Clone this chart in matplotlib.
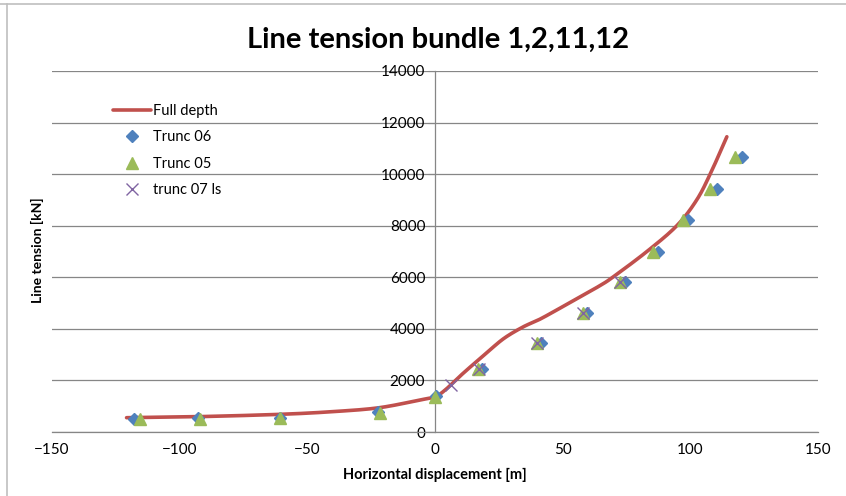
import numpy as np
import matplotlib
matplotlib.use("Agg")
import matplotlib.pyplot as plt
from matplotlib.lines import Line2D

# Full-depth reference curve
full_x = [-120.8, -93, -60.7, -40, -22, -6, 0, 4, 11, 20, 27, 34.6, 41, 50, 57, 65, 70, 83, 94.7, 102.5, 108, 114.3]
full_y = [555, 595, 685, 790, 940, 1240, 1370, 1630, 2275, 3050, 3630, 4080, 4370, 4860, 5250, 5700, 6030, 7000, 8000, 9000, 10050, 11450]

# Truncated model results
trunc06_x = [-118, -93, -60.7, -22.3, 0.3, 18.3, 41.4, 59.4, 74.4, 87.5, 99.2, 110.3, 120.1]
trunc06_y = [520, 530, 550, 760, 1380, 2440, 3460, 4600, 5800, 6990, 8220, 9420, 10680]

trunc05_x = [-115.5, -92, -60.7, -21.5, 0, 17, 39.8, 57.8, 72.5, 85.5, 97.3, 107.7, 117.5]
trunc05_y = [500, 510, 540, 740, 1370, 2430, 3450, 4600, 5800, 6990, 8220, 9420, 10680]

trunc07_x = [6.3, 17.4, 40.1, 58.1, 72.5]
trunc07_y = [1820, 2430, 3460, 4600, 5800]

x_ticks = [-150, -100, -50, 0, 50, 100, 150]
y_ticks = [0, 2000, 4000, 6000, 8000, 10000, 12000, 14000]


def smooth_path(xs, ys, xr, yr, n=20):
    """Catmull-Rom path through the points, computed in normalised units."""
    p = np.column_stack([np.asarray(xs) / xr, np.asarray(ys) / yr])
    p = np.vstack([2 * p[0] - p[1], p, 2 * p[-1] - p[-2]])
    out = []
    for i in range(1, len(p) - 2):
        p0, p1, p2, p3 = p[i - 1], p[i], p[i + 1], p[i + 2]
        t = np.linspace(0, 1, n, endpoint=False)[:, None]
        seg = 0.5 * ((2 * p1) + (-p0 + p2) * t + (2 * p0 - 5 * p1 + 4 * p2 - p3) * t ** 2
                     + (-p0 + 3 * p1 - 3 * p2 + p3) * t ** 3)
        out.append(seg)
    out.append(p[-2][None, :])
    out = np.vstack(out)
    return out[:, 0] * xr, out[:, 1] * yr


plt.rcParams['font.family'] = ['Lato', 'DejaVu Sans']

fig = plt.figure(figsize=(8.46, 4.96), dpi=100)
ax = fig.add_axes([52/846, 1 - 432/496, (818 - 52)/846, (432 - 71)/496])

grid_c = '#868686'
ax.set_xlim(-150, 150)
ax.set_ylim(0, 14000)
ax.set_xticks(x_ticks)
ax.set_yticks(y_ticks)
ax.yaxis.grid(True, color=grid_c, linewidth=0.9)
ax.set_axisbelow(True)

for s in ['top', 'right']:
    ax.spines[s].set_visible(False)
ax.spines['left'].set_position(('data', 0))
ax.spines['left'].set_color(grid_c)
ax.spines['bottom'].set_color(grid_c)
ax.spines['left'].set_linewidth(0.9)
ax.spines['bottom'].set_linewidth(0.9)
ax.tick_params(axis='y', length=5, color=grid_c, labelsize=11, pad=2)
ax.tick_params(axis='x', length=0, labelsize=11, pad=8)

sx, sy = smooth_path(full_x, full_y, 300.0, 14000.0)
ax.plot(sx, sy, color='#C0504D', linewidth=2.6, label='Full depth', zorder=3,
        solid_capstyle='round')
ax.plot(trunc06_x, trunc06_y, linestyle='none', marker='D', markersize=6.5,
        color='#4F81BD', label='Trunc 06', zorder=4)
ax.plot(trunc05_x, trunc05_y, linestyle='none', marker='^', markersize=9,
        color='#9BBB59', label='Trunc 05', zorder=5)
ax.plot(trunc07_x, trunc07_y, linestyle='none', marker='x', markersize=8,
        markeredgewidth=1.0, color='#8064A2', label='trunc 07 ls', zorder=6)

ax.set_xlabel('Horizontal displacement [m]', fontsize=10.5, fontweight='bold', labelpad=8)
fig.text(37/846, 1 - 250/496, 'Line tension [kN]', rotation=90, fontsize=10,
         fontweight='bold', ha='center', va='center')
fig.text(438/846, 1 - 40/496, 'Line tension bundle 1,2,11,12', fontsize=21,
         fontweight='bold', ha='center', va='center')

leg = ax.legend(loc='upper left', bbox_to_anchor=(55/766, 1 - 27/361), frameon=False,
                fontsize=10.5, handlelength=2.6, handletextpad=0.15, labelspacing=0.85,
                borderaxespad=0)

# chart-area border
fig.add_artist(Line2D([0, 1], [1 - 4/496, 1 - 4/496], transform=fig.transFigure,
                      color='#BFBFBF', linewidth=1.2))
fig.add_artist(Line2D([7/846, 7/846], [0, 1 - 4/496], transform=fig.transFigure,
                      color='#BFBFBF', linewidth=1.2))

fig.savefig('out.png', dpi=100)
